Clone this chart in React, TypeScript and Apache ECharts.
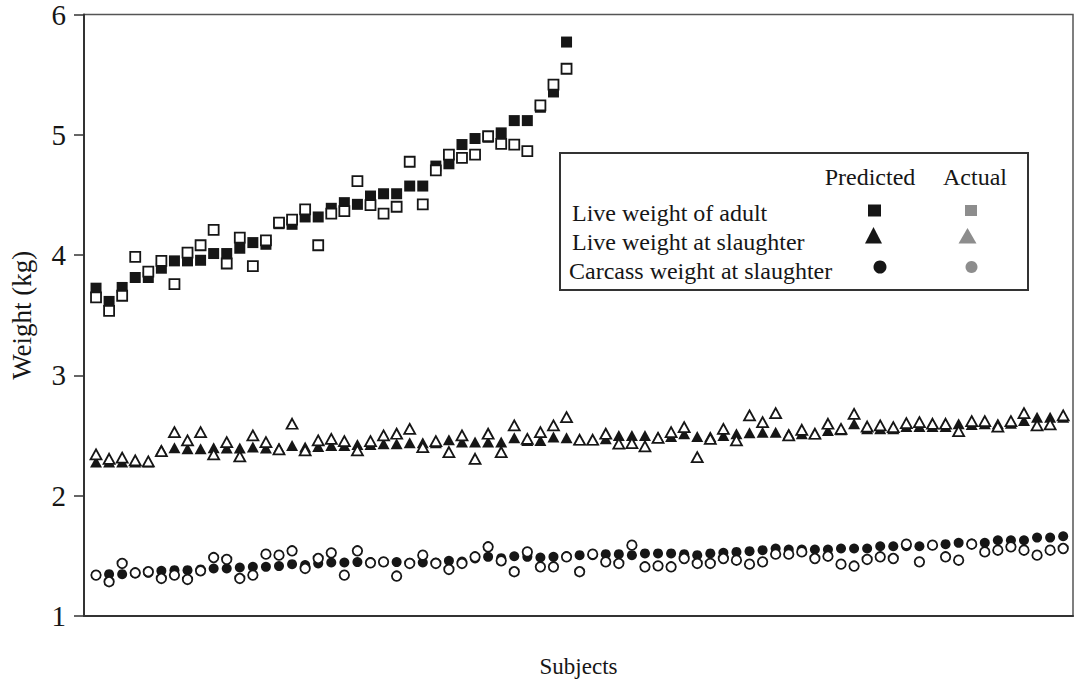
import React, { useEffect, useRef } from "react";
import * as echarts from "echarts";

const yTicks = [1, 2, 3, 4, 5, 6];

const adultPredicted = [
  3.725, 3.615, 3.731, 3.814, 3.814, 3.891, 3.952, 3.952, 3.957, 4.013,
  4.013, 4.057, 4.104, 4.09, 4.261, 4.256, 4.317, 4.317, 4.389, 4.436,
  4.422, 4.491, 4.51, 4.51, 4.574, 4.574, 4.74, 4.759, 4.919, 4.969,
  4.98, 5.016, 5.118, 5.118, 5.229, 5.356, 5.771,
];
const adultActual = [
  3.648, 3.537, 3.662, 3.985, 3.863, 3.952, 3.758, 4.021, 4.082, 4.209,
  3.93, 4.145, 3.908, 4.123, 4.27, 4.295, 4.38, 4.082, 4.344, 4.366,
  4.615, 4.416, 4.344, 4.402, 4.776, 4.422, 4.704, 4.836, 4.809, 4.836,
  4.988, 4.925, 4.919, 4.864, 5.245, 5.417, 5.549,
];

const slaughterPredicted = [
  2.28, 2.28, 2.28, 2.28, 2.28, 2.382, 2.398, 2.39, 2.39, 2.398,
  2.396, 2.396, 2.404, 2.396, 2.396, 2.418, 2.404, 2.41, 2.418, 2.418,
  2.426, 2.426, 2.432, 2.432, 2.44, 2.44, 2.44, 2.465, 2.446, 2.446,
  2.446, 2.446, 2.481, 2.459, 2.459, 2.487, 2.481, 2.465, 2.465, 2.473,
  2.501, 2.501, 2.501, 2.487, 2.492, 2.515, 2.492, 2.492, 2.501, 2.515,
  2.523, 2.528, 2.528, 2.515, 2.515, 2.515, 2.542, 2.548, 2.598, 2.556,
  2.556, 2.556, 2.575, 2.575, 2.575, 2.575, 2.598, 2.592, 2.598, 2.598,
  2.603, 2.625, 2.653, 2.653, 2.653,
];
const slaughterActual = [
  2.343, 2.307, 2.316, 2.294, 2.285, 2.371, 2.528, 2.459, 2.528, 2.343,
  2.446, 2.327, 2.501, 2.446, 2.385, 2.598, 2.376, 2.459, 2.473, 2.454,
  2.376, 2.454, 2.501, 2.515, 2.556, 2.404, 2.454, 2.363, 2.501, 2.307,
  2.515, 2.363, 2.584, 2.473, 2.528, 2.584, 2.653, 2.465, 2.465, 2.515,
  2.432, 2.437, 2.41, 2.481, 2.528, 2.57, 2.321, 2.473, 2.556, 2.459,
  2.667, 2.611, 2.686, 2.501, 2.548, 2.515, 2.598, 2.556, 2.68, 2.575,
  2.584, 2.57, 2.603, 2.611, 2.598, 2.598, 2.537, 2.62, 2.62, 2.575,
  2.62, 2.686, 2.584, 2.592, 2.667,
];

const carcassPredicted = [
  1.34, 1.348, 1.348, 1.354, 1.359, 1.376, 1.381, 1.381, 1.387, 1.395,
  1.395, 1.403, 1.409, 1.409, 1.415, 1.431, 1.423, 1.437, 1.445, 1.445,
  1.448, 1.448, 1.448, 1.448, 1.442, 1.445, 1.445, 1.459, 1.453, 1.478,
  1.492, 1.481, 1.497, 1.492, 1.486, 1.492, 1.497, 1.506, 1.506, 1.514,
  1.514, 1.506, 1.52, 1.52, 1.52, 1.514, 1.506, 1.52, 1.525, 1.533,
  1.539, 1.547, 1.561, 1.553, 1.553, 1.553, 1.553, 1.561, 1.561, 1.561,
  1.58, 1.58, 1.58, 1.58, 1.589, 1.597, 1.608, 1.602, 1.608, 1.63,
  1.63, 1.63, 1.652, 1.652, 1.663,
];
const carcassActual = [
  1.34, 1.285, 1.437, 1.359, 1.368, 1.312, 1.34, 1.304, 1.376, 1.486,
  1.47, 1.312, 1.34, 1.514, 1.506, 1.542, 1.395, 1.478, 1.525, 1.34,
  1.542, 1.442, 1.45, 1.332, 1.437, 1.506, 1.437, 1.387, 1.437, 1.492,
  1.575, 1.459, 1.368, 1.533, 1.409, 1.409, 1.492, 1.368, 1.514, 1.45,
  1.437, 1.589, 1.409, 1.417, 1.409, 1.478, 1.437, 1.437, 1.478, 1.464,
  1.431, 1.45, 1.514, 1.514, 1.533, 1.478, 1.497, 1.431, 1.415, 1.47,
  1.492, 1.478, 1.597, 1.45, 1.589, 1.492, 1.464, 1.597, 1.533, 1.547,
  1.575, 1.547, 1.506, 1.547, 1.561,
];

const legendRows = [
  "Live weight of adult",
  "Live weight at slaughter",
  "Carcass weight at slaughter",
];
const legendHeaders = ["Predicted", "Actual"];

const FONT = "Liberation Serif";
const INK = "#161616";
const GRAY = "#8d8d8d";

const toPoints = (arr: number[]) => arr.map((v, i) => [i + 1, v]);

export default function App() {
  const ref = useRef<HTMLDivElement>(null);

  useEffect(() => {
    if (!ref.current) return;
    const chart = echarts.init(ref.current, undefined, { renderer: "svg" });

    const filled = (name: string, data: number[], symbol: string, size: any) => ({
      name,
      type: "scatter",
      data: toPoints(data),
      symbol,
      symbolSize: size,
      z: 2,
      itemStyle: { color: INK, opacity: 1 },
    });
    const open = (name: string, data: number[], symbol: string, size: any) => ({
      name,
      type: "scatter",
      data: toPoints(data),
      symbol,
      symbolSize: size,
      z: 3,
      itemStyle: { color: "#ffffff", borderColor: INK, borderWidth: 1.8, opacity: 1 },
    });

    const rowY = [213, 242, 271];

    chart.setOption({
      animation: false,
      backgroundColor: "#ffffff",
      grid: {
        left: 83,
        right: 1,
        top: 13,
        bottom: 70,
        show: true,
        borderColor: "#555",
        borderWidth: 1.5,
      },
      xAxis: {
        type: "value",
        min: 0.08,
        max: 75.75,
        name: "Subjects",
        nameLocation: "middle",
        nameGap: 39,
        nameTextStyle: { fontFamily: FONT, fontSize: 23, color: INK },
        axisLine: { show: true, lineStyle: { color: "#333", width: 2 } },
        axisTick: { show: false },
        axisLabel: { show: false },
        splitLine: { show: false },
      },
      yAxis: {
        type: "value",
        min: yTicks[0],
        max: yTicks[yTicks.length - 1],
        interval: 1,
        name: "Weight (kg)",
        nameLocation: "middle",
        nameRotate: 90,
        nameGap: 49,
        nameTextStyle: { fontFamily: FONT, fontSize: 27, color: INK },
        axisLine: { show: true, lineStyle: { color: "#333", width: 2 } },
        axisTick: { show: true, inside: false, length: 10, lineStyle: { color: "#333", width: 1.5 } },
        axisLabel: { margin: 18, fontFamily: FONT, fontSize: 29, color: INK },
        splitLine: { show: false },
      },
      series: [
        filled("Live weight of adult – Predicted", adultPredicted, "rect", 11),
        filled("Live weight at slaughter – Predicted", slaughterPredicted, "triangle", [12, 11]),
        filled("Carcass weight at slaughter – Predicted", carcassPredicted, "circle", 10),
        open("Live weight of adult – Actual", adultActual, "rect", 10),
        open("Live weight at slaughter – Actual", slaughterActual, "triangle", [11, 10]),
        open("Carcass weight at slaughter – Actual", carcassActual, "circle", 9.5),
      ],
      graphic: [
        {
          type: "group",
          z: 100,
          children: [
            {
              type: "rect",
              shape: { x: 560, y: 153, width: 468, height: 137 },
              style: { fill: "#ffffff", stroke: "#333", lineWidth: 2 },
            },
            {
              type: "text",
              x: 870,
              y: 177,
              style: {
                text: legendHeaders[0],
                fontFamily: FONT,
                fontSize: 24,
                fill: INK,
                align: "center",
                verticalAlign: "middle",
              },
            },
            {
              type: "text",
              x: 975,
              y: 177,
              style: {
                text: legendHeaders[1],
                fontFamily: FONT,
                fontSize: 24,
                fill: INK,
                align: "center",
                verticalAlign: "middle",
              },
            },
            ...legendRows.map((t, i) => ({
              type: "text",
              x: i === 2 ? 569 : 572,
              y: rowY[i],
              style: {
                text: t,
                fontFamily: FONT,
                fontSize: 24,
                fill: INK,
                align: "left",
                verticalAlign: "middle",
              },
            })),
            {
              type: "rect",
              shape: { x: 868, y: 204.5, width: 13, height: 12 },
              style: { fill: INK },
            },
            {
              type: "polygon",
              shape: { points: [[873.5, 227], [865, 243.5], [882, 243.5]] },
              style: { fill: INK },
            },
            {
              type: "circle",
              shape: { cx: 880, cy: 267, r: 6.5 },
              style: { fill: INK },
            },
            {
              type: "rect",
              shape: { x: 965, y: 205, width: 12, height: 11 },
              style: { fill: GRAY },
            },
            {
              type: "polygon",
              shape: { points: [[967.5, 228], [958.5, 243.5], [976.5, 243.5]] },
              style: { fill: GRAY },
            },
            {
              type: "circle",
              shape: { cx: 971.5, cy: 267, r: 6 },
              style: { fill: GRAY },
            },
          ],
        },
      ],
    });

    return () => chart.dispose();
  }, []);

  return (
    <div
      ref={ref}
      style={{ position: "fixed", left: 0, top: 0, width: 1074, height: 686, background: "#fff" }}
    />
  );
}
